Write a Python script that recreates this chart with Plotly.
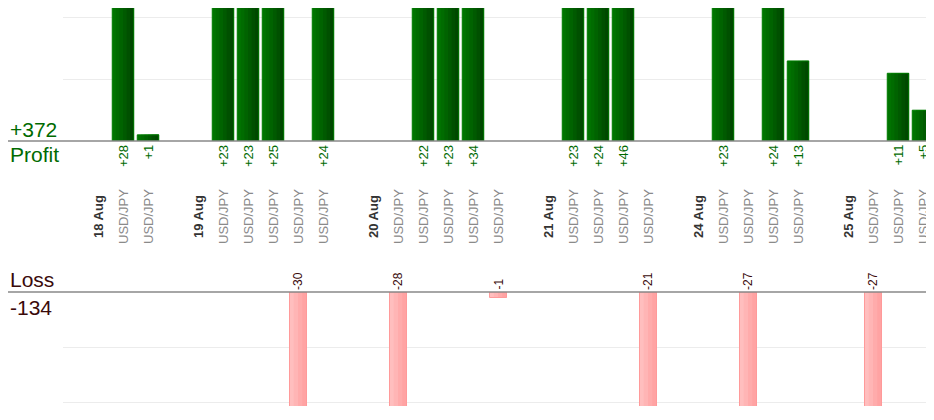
import plotly.graph_objects as go

# one slot per label; "" = spacer slot between days
labels = ["18 Aug", "USD/JPY", "USD/JPY", "",
          "19 Aug", "USD/JPY", "USD/JPY", "USD/JPY", "USD/JPY", "USD/JPY", "",
          "20 Aug", "USD/JPY", "USD/JPY", "USD/JPY", "USD/JPY", "USD/JPY", "",
          "21 Aug", "USD/JPY", "USD/JPY", "USD/JPY", "USD/JPY", "",
          "24 Aug", "USD/JPY", "USD/JPY", "USD/JPY", "USD/JPY", "",
          "25 Aug", "USD/JPY", "USD/JPY", "USD/JPY"]
is_day = [l.endswith("Aug") for l in labels]

profit = [None, 28, 1, None,
          None, 23, 23, 25, None, 24, None,
          None, None, 22, 23, 34, None, None,
          None, 23, 24, 46, None, None,
          None, 23, None, 24, 13, None,
          None, None, 11, 5]
loss = [None, None, None, None,
        None, None, None, None, -30, None, None,
        None, -28, None, None, None, -1, None,
        None, None, None, None, -21, None,
        None, None, -27, None, None, None,
        None, -27, None, None]

# page body has an 8px margin, so the figure starts 8px in
OFF = 8
W, H = 934 - OFF, 420 - OFF
FONT = "Arial, Liberation Sans, sans-serif"
GREEN = "#006a00"
DARK = "#3a0a0a"

xs = list(range(len(labels)))
px = [i for i, v in zip(xs, profit) if v is not None]
pv = [v for v in profit if v is not None]
lx = [i for i, v in zip(xs, loss) if v is not None]
lv = [v for v in loss if v is not None]

def py(p):  # window pixel row -> paper y
    return (H - (p - OFF)) / H

def pxx(p):  # window pixel column -> paper x
    return (p - OFF) / W

fig = go.Figure()

# overlapping strips to fake the left-to-right shading of the bars
def shaded(x, y, width, colors, edge, xa, ya):
    n = len(colors)
    sw = width / n
    for k, c in enumerate(colors):
        fig.add_trace(go.Bar(x=x, y=y, width=width - k * sw, offset=-width / 2 + k * sw,
                             xaxis=xa, yaxis=ya, marker=dict(color=c, line=dict(width=0)),
                             hoverinfo="skip"))
    fig.add_trace(go.Bar(x=x, y=y, width=width, offset=-width / 2, xaxis=xa, yaxis=ya,
                         marker=dict(color="rgba(0,0,0,0)", line=dict(color=edge, width=1)),
                         hoverinfo="x+y"))

shaded(px, pv, 0.86, ["#007400", "#006c00", "#006300", "#005a00", "#005000", "#004800"],
       "#007d00", "x", "y")
shaded(lx, lv, 0.68, ["#ffbebe", "#ffb5b5", "#ffabab", "#ffa3a3"], "#ff9a9a", "x2", "y2")

xr = [-1.4, (934 - 98) / 25]
ax = dict(range=xr, showticklabels=False, showgrid=False, zeroline=False,
          domain=[pxx(63), 1])
fig.update_layout(
    width=W, height=H, showlegend=False, barmode="overlay",
    margin=dict(l=0, r=0, t=0, b=0),
    plot_bgcolor="white", paper_bgcolor="white",
    font=dict(family=FONT),
    xaxis=ax,
    xaxis2=dict(ax, anchor="y2"),
    yaxis=dict(range=[0, 21.6], domain=[py(141), 1], tickvals=[10, 20],
               showticklabels=False, gridcolor="#ececec", zeroline=False),
    yaxis2=dict(range=[-20.7, 0], domain=[py(406), py(292)], tickvals=[-10, -20],
                showticklabels=False, gridcolor="#ececec", zeroline=False),
)

# baselines across the full width
for row in (141, 292):
    fig.add_shape(type="line", xref="paper", yref="paper", x0=0, x1=1,
                  y0=py(row), y1=py(row), line=dict(color="#888888", width=1.5))

# totals
fig.add_annotation(text="+%d" % sum(pv), x=0, y=py(130), xref="paper", yref="paper",
                   xanchor="left", yanchor="middle", showarrow=False,
                   font=dict(size=21, color=GREEN))
fig.add_annotation(text="Profit", x=0, y=py(155), xref="paper", yref="paper",
                   xanchor="left", yanchor="middle", showarrow=False,
                   font=dict(size=21, color=GREEN))
fig.add_annotation(text="Loss", x=0, y=py(280), xref="paper", yref="paper",
                   xanchor="left", yanchor="middle", showarrow=False,
                   font=dict(size=21, color=DARK))
fig.add_annotation(text="%d" % sum(lv), x=0, y=py(307), xref="paper", yref="paper",
                   xanchor="left", yanchor="middle", showarrow=False,
                   font=dict(size=21, color=DARK))

# value labels
for x, v in zip(px, pv):
    fig.add_annotation(text="+%d" % v, x=x, y=py(143), xref="x", yref="paper",
                       textangle=-90, yanchor="top", showarrow=False,
                       font=dict(size=13, color=GREEN))
for x, v in zip(lx, lv):
    fig.add_annotation(text="%d" % v, x=x, y=py(292), xref="x", yref="paper",
                       textangle=-90, yanchor="bottom", showarrow=False,
                       font=dict(size=12, color=DARK))

# category labels
for x, lab, day in zip(xs, labels, is_day):
    if not lab:
        continue
    fig.add_annotation(text="<b>%s</b>" % lab if day else lab, x=x, y=py(217),
                       xref="x", yref="paper", textangle=-90, yanchor="middle",
                       showarrow=False,
                       font=dict(size=13, color="#333333" if day else "#8a8a8a"))

fig.write_html("out.html")
